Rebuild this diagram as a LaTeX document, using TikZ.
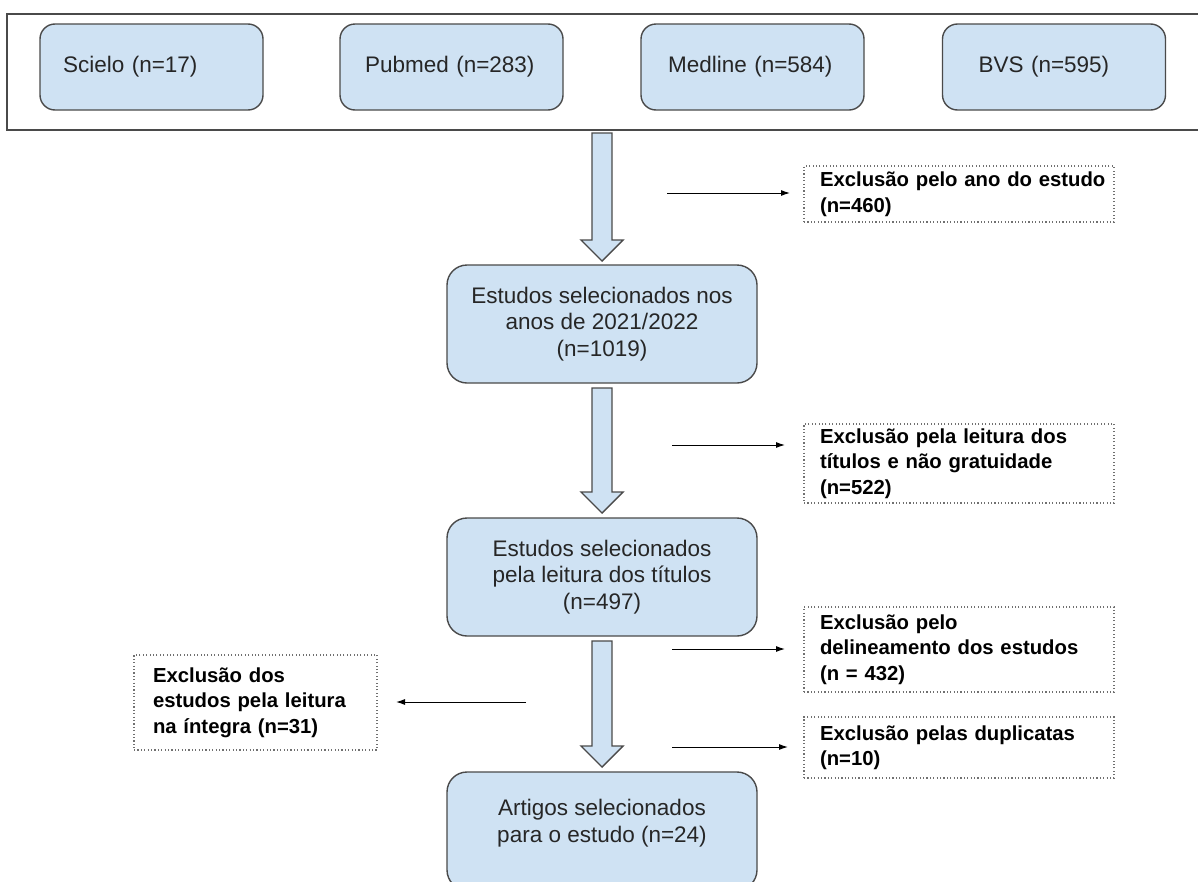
\documentclass[tikz,border=0pt]{standalone}
\usepackage{fontspec}
\setmainfont{Liberation Sans}
\usetikzlibrary{arrows.meta,calc}
\definecolor{boxfill}{HTML}{CFE2F3}
\definecolor{boxline}{HTML}{4A4A4A}
\definecolor{dotline}{HTML}{707070}
\definecolor{txt}{HTML}{262626}
\newcommand{\blockarr}[2]{%
  \draw[blockarrow] ($#1+(-10,0)$) -- ($#1+(10,0)$) -- ($#2+(10,-21)$) -- ($#2+(21,-21)$) -- #2 -- ($#2+(-21,-21)$) -- ($#2+(-10,-21)$) -- cycle;}
\begin{document}
\begin{tikzpicture}[x=1pt,y=-1pt,
  every node/.style={outer sep=0pt},
  topbox/.style={draw=boxline, fill=boxfill, line width=1.4pt, rounded corners=15pt, minimum width=223pt, minimum height=86pt, inner ysep=0pt, align=left, text=txt, font=\fontsize{22.5}{26}\selectfont},
  mainbox/.style={draw=boxline, fill=boxfill, line width=1.4pt, rounded corners=20pt, minimum width=310pt, minimum height=118pt, align=center, inner sep=0pt, text=txt, font=\fontsize{22.5}{26.5}\selectfont},
  exbox/.style={draw=dotline, dash pattern=on 1.1pt off 2.3pt, line width=1.1pt, align=left, inner xsep=16pt, inner ysep=0pt, font=\bfseries\fontsize{20.3}{25.5}\selectfont},
  thin/.style={draw=black, line width=1pt, -{Latex[length=9pt,width=6pt]}},
  blockarrow/.style={draw=boxline, fill=boxfill, line width=1.4pt, line join=miter}
]
\path[use as bounding box, clip] (0,0) rectangle (1198,881);

% sources
\node[draw=boxline, line width=1.4pt, minimum width=1193pt, minimum height=116pt, anchor=north west, inner sep=0pt] (src) at (7,14) {};
\node[topbox, inner xsep=23pt, text width=177pt] (scielo) at (151.5,67) {\mbox{Scielo (n=17)}};
\node[topbox, inner xsep=25pt, text width=173pt] (pubmed) at (451.5,67) {\mbox{Pubmed (n=283)}};
\node[topbox, inner xsep=27pt, text width=169pt] (medline) at (752.5,67) {\mbox{Medline (n=584)}};
\node[topbox, inner xsep=36pt, text width=151pt] (bvs) at (1054,67) {\mbox{BVS (n=595)}};

% main flow
\node[mainbox, anchor=north] (box2) at (602,265) {Estudos selecionados nos\\anos de 2021/2022\\(n=1019)};
\node[mainbox, anchor=north] (box3) at (602,518) {Estudos selecionados\\pela leitura dos títulos\\(n=497)};
\node[mainbox, anchor=north] (box4) at (602,772) {Artigos selecionados\\para o estudo (n=24)\\[-6pt]\mbox{}};

% block arrows
\coordinate (a1t) at ($(box2.north |- src.south)+(0,3)$);
\coordinate (a1p) at ($(box2.north)+(0,-4)$);
\coordinate (a2t) at ($(box2.south)+(0,5)$);
\coordinate (a2p) at ($(box3.north)+(0,-5)$);
\coordinate (a3t) at ($(box3.south)+(0,5)$);
\coordinate (a3p) at ($(box4.north)+(0,-5)$);
\blockarr{(a1t)}{(a1p)}
\blockarr{(a2t)}{(a2p)}
\blockarr{(a3t)}{(a3p)}

% exclusion boxes
\node[exbox, text width=278pt, minimum height=56pt, anchor=north west] (ex1) at (804,166) {\mbox{Exclusão pelo ano do estudo}\\(n=460)};
\node[exbox, text width=278pt, minimum height=79pt, anchor=north west] (ex2) at (804,424) {\mbox{Exclusão pela leitura dos}\\\mbox{títulos e não gratuidade}\\(n=522)};
\node[exbox, text width=278pt, minimum height=85pt, anchor=north west] (ex3) at (804,607) {Exclusão pelo\\\mbox{delineamento dos estudos}\\(n = 432)};
\node[exbox, text width=278pt, minimum height=61pt, anchor=north west] (ex4) at (804,717) {\mbox{Exclusão pelas duplicatas}\\(n=10)};
\node[exbox, inner xsep=19pt, text width=205pt, minimum height=95pt, anchor=north west] (ex5) at (134,655) {Exclusão dos\\\mbox{estudos pela leitura}\\\mbox{na íntegra (n=31)}};

% thin arrows
\coordinate (t1) at (667,193);
\coordinate (t2) at (672,445);
\coordinate (t3) at (672,649);
\coordinate (t4) at (672,747);
\coordinate (t5) at (526,702);
\draw[thin, shorten >=14pt] (t1) -- (t1 -| ex1.west);
\draw[thin, shorten >=19pt] (t2) -- (t2 -| ex2.west);
\draw[thin, shorten >=19pt] (t3) -- (t3 -| ex3.west);
\draw[thin, shorten >=16pt] (t4) -- (t4 -| ex4.west);
\draw[thin, shorten >=19pt] (t5) -- (t5 -| ex5.east);
\end{tikzpicture}
\end{document}
